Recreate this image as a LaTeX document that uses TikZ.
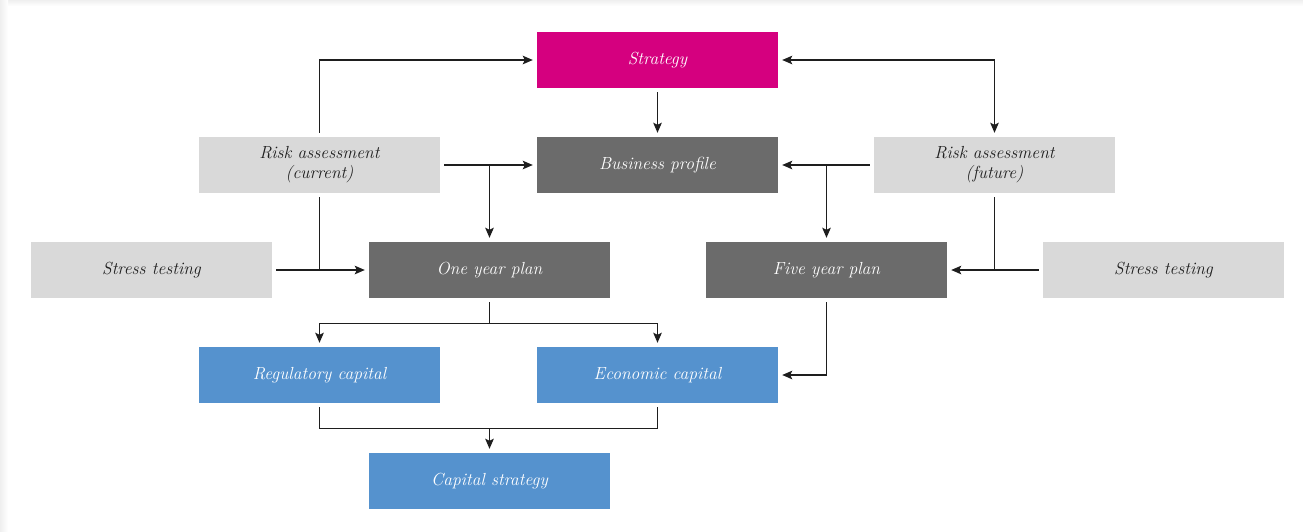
\documentclass[tikz,border=0pt]{standalone}
\usetikzlibrary{arrows.meta}
\definecolor{mag}{HTML}{D5007F}
\definecolor{dgray}{HTML}{6B6B6B}
\definecolor{lgray}{HTML}{D9D9D9}
\definecolor{blueb}{HTML}{5592CE}
\definecolor{ln}{HTML}{1E1E1E}
\definecolor{shad}{HTML}{EFEFEF}
\begin{document}
\begin{tikzpicture}[x=1pt,y=-1pt,
  box/.style={minimum width=241pt,minimum height=56pt,inner sep=0pt,
    font=\fontsize{17.5}{20}\selectfont\itshape,align=center},
  light/.style={box,fill=lgray,text=ln},
  dark/.style={box,fill=dgray,text=white},
  magbox/.style={box,fill=mag,text=white},
  bluebox/.style={box,fill=blueb,text=white},
  line/.style={draw=ln,line width=1.3pt},
  arr/.style={line,-{Stealth[length=10pt,width=8.5pt,inset=2pt]},shorten <=4pt,shorten >=4pt},
  arrb/.style={line,{Stealth[length=10pt,width=8.5pt,inset=2pt]}-{Stealth[length=10pt,width=8.5pt,inset=2pt]},shorten <=4pt,shorten >=4pt}]
\useasboundingbox (0,0) rectangle (1303,531);
\fill[white] (0,0) rectangle (1303,531);
\shade[top color=shad,bottom color=white] (0,0) rectangle (1303,6);
\shade[left color=shad,right color=white] (0,0) rectangle (8,531);

\node[magbox]  (strat) at (657.5,60)  {Strategy};
\node[dark]    (bp)    at (657.5,165) {Business profile};
\node[light]   (rac)   at (319.5,165) {Risk assessment\\(current)};
\node[light]   (raf)   at (994.5,165) {Risk assessment\\(future)};
\node[light]   (stl)   at (151.5,270) {Stress testing};
\node[dark]    (oyp)   at (489.5,270) {One year plan};
\node[dark]    (fyp)   at (826.5,270) {Five year plan};
\node[light]   (str)   at (1163.5,270) {Stress testing};
\node[bluebox] (reg)   at (319.5,375) {Regulatory capital};
\node[bluebox] (eco)   at (657.5,375) {Economic capital};
\node[bluebox] (cap)   at (489.5,481) {Capital strategy};

\draw[arr] (rac.north) |- (strat.west);
\draw[arrb] (strat.east) -| (raf.north);
\draw[arr] (strat.south) -- (bp.north);

\coordinate (j1) at (oyp.north |- rac.east);
\draw[arr] (rac.east) -- (bp.west);
\draw[arr,shorten <=0pt] (j1) -- (oyp.north);

\coordinate (j2) at (fyp.north |- raf.west);
\draw[arr] (raf.west) -- (bp.east);
\draw[arr,shorten <=0pt] (j2) -- (fyp.north);

\coordinate (j3) at (rac.south |- stl.east);
\draw[arr] (stl.east) -- (oyp.west);
\draw[line,shorten <=4pt] (rac.south) -- (j3);

\coordinate (j4) at (raf.south |- str.west);
\draw[arr] (str.west) -- (fyp.east);
\draw[line,shorten <=4pt] (raf.south) -- (j4);

\coordinate (j5) at ([yshift=-25pt]oyp.south);
\draw[line,shorten <=4pt] (oyp.south) -- (j5);
\draw[arr,shorten <=0pt] (j5) -| (reg.north);
\draw[arr,shorten <=0pt] (j5) -| (eco.north);

\draw[arr] (fyp.south) |- (eco.east);

\coordinate (j6) at ([yshift=-25pt]reg.south);
\coordinate (j7) at (cap.north |- j6);
\draw[line,shorten <=4pt,shorten >=4pt] (reg.south) -- (j6) -| (eco.south);
\draw[arr,shorten <=0pt] (j7) -- (cap.north);
\end{tikzpicture}
\end{document}
